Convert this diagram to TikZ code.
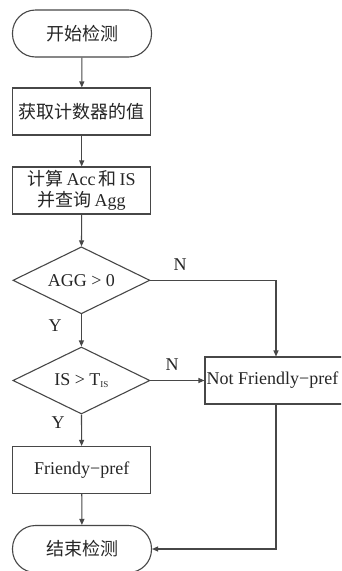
\documentclass[tikz,border=0pt]{standalone}
\usepackage{fontspec}
\setmainfont{Liberation Serif}
\newfontfamily\cjk{Noto Sans CJK SC}
\usetikzlibrary{shapes.geometric,arrows.meta}
\begin{document}
\begin{tikzpicture}[x=1pt,y=-1pt,
  ln/.style={draw=black!72, line width=1.1pt},
  arr/.style={ln, -{Triangle[length=6pt,width=5pt]}},
  txt/.style={font=\fontsize{18}{21}\selectfont, text=black!85},
  term/.style={ln, txt, rectangle, rounded corners=23pt, minimum width=139pt, minimum height=47pt, inner sep=0pt, fill=white},
  proc/.style={ln, txt, rectangle, minimum width=138pt, minimum height=47pt, inner sep=0pt, fill=white, align=center},
  dec/.style={ln, txt, diamond, aspect=2, minimum width=137pt, minimum height=67pt, inner sep=0pt, fill=white},
  lab/.style={txt, inner sep=0pt}]
\useasboundingbox (0,0) rectangle (341,571);
\path[clip] (0,0) rectangle (341,571);
\fill[white] (0,0) rectangle (341,571);

\node[term] (start) at (82,33.5) {\cjk 开始检测};
\node[proc] (b1) at (81.7,111.5) {\cjk 获取计数器的值};
\node[proc] (b2) at (81.7,190.5) {{\cjk 计算}\,Acc\,{\cjk 和}\,IS\\{\cjk 并查询}\,Agg};
\node[dec] (d1) at (81.4,280.3) {AGG > 0};
\node[dec] (d2) at (81.4,380.5) {IS > T\raisebox{-1.5pt}{\fontsize{9}{9}\selectfont IS}};
\node[proc, minimum width=142pt] (nf) at (276,380.5) {Not Friendly−pref\hspace*{7pt}};
\node[proc] (b3) at (81.7,470) {Friendy−pref};
\node[term] (end) at (82,549) {\cjk 结束检测};

\node[lab] (n1) at (180,265) {N};
\node[lab] (y1) at (55,326) {Y};
\node[lab] (n2) at (172,365) {N};
\node[lab] (y2) at (58,423) {Y};

\draw[arr] (start) -- (b1);
\draw[arr] (b1) -- (b2);
\draw[arr] (b2) -- (d1);
\draw[arr] (d1) -- (d2);
\draw[arr] (d1.east) -| (nf.north);
\draw[arr] (d2.east) -- (nf.west);
\draw[arr] (d2) -- (b3);
\draw[arr] (b3) -- (end);
\draw[arr] (nf.south) |- (end.east);
\end{tikzpicture}
\end{document}
